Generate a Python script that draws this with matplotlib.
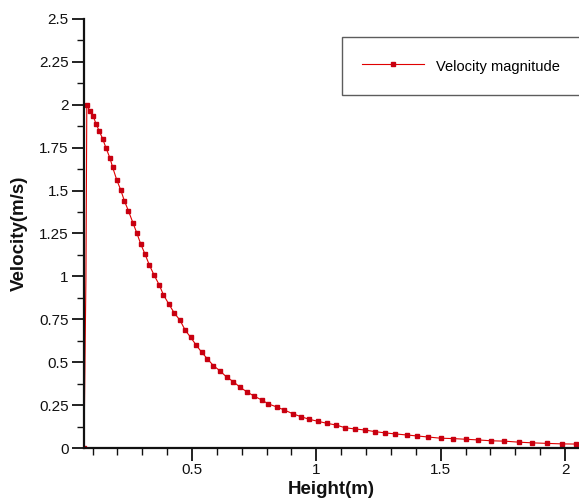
import numpy as np
import matplotlib
matplotlib.use('Agg')
import matplotlib.pyplot as plt
from matplotlib.ticker import MultipleLocator

plt.rcParams['font.family'] = ['Liberation Sans', 'DejaVu Sans']

# 读取的数据点 (高度, 速度)
height = [0.0657, 0.0735, 0.077, 0.090, 0.103, 0.114, 0.1265, 0.141, 0.154, 0.170,
          0.181, 0.197, 0.213, 0.228, 0.244, 0.262, 0.278, 0.294, 0.311, 0.328,
          0.347, 0.368, 0.385, 0.407, 0.429, 0.452, 0.472, 0.495, 0.516, 0.539,
          0.562, 0.586, 0.613, 0.640, 0.666, 0.693, 0.720, 0.749, 0.780, 0.807,
          0.841, 0.870, 0.905, 0.937, 0.972, 1.005, 1.042, 1.079, 1.116, 1.155,
          1.194, 1.237, 1.277, 1.317, 1.363, 1.406, 1.450, 1.500, 1.548, 1.600,
          1.651, 1.702, 1.756, 1.814, 1.868, 1.926, 1.986, 2.044]
velocity = [0.0, 1.0, 2.0, 1.962, 1.933, 1.889, 1.849, 1.801, 1.749, 1.690,
            1.635, 1.564, 1.505, 1.441, 1.383, 1.314, 1.253, 1.188, 1.130, 1.068,
            1.009, 0.951, 0.893, 0.838, 0.786, 0.744, 0.688, 0.644, 0.601, 0.558,
            0.519, 0.480, 0.449, 0.412, 0.387, 0.354, 0.328, 0.303, 0.280, 0.257,
            0.239, 0.222, 0.200, 0.183, 0.167, 0.156, 0.144, 0.134, 0.118, 0.111,
            0.105, 0.095, 0.088, 0.082, 0.076, 0.070, 0.064, 0.057, 0.055, 0.051,
            0.047, 0.042, 0.040, 0.034, 0.030, 0.027, 0.024, 0.023]
series_name = 'Velocity magnitude'

W, H = 579, 503
fig = plt.figure(figsize=(W / 100, H / 100), dpi=100)
ax = fig.add_axes([84 / W, 55 / H, (W - 84) / W, 429 / H])

marks = [i for i in range(len(height)) if i != 1]
ax.plot(height, velocity, color='#e00000', lw=0.8, marker='s', markersize=3.3,
        markerfacecolor='#c80010', markeredgecolor='#c80010', markevery=marks,
        label=series_name)

ax.set_xlim(0.0657, 2.056)
ax.set_ylim(0, 2.5)
ax.set_xticks([0.5, 1, 1.5, 2])
ax.set_xticklabels(['0.5', '1', '1.5', '2'])
ax.xaxis.set_minor_locator(MultipleLocator(0.1))
ax.set_yticks([0, 0.25, 0.5, 0.75, 1, 1.25, 1.5, 1.75, 2, 2.25, 2.5])
ax.set_yticklabels(['0', '0.25', '0.5', '0.75', '1', '1.25', '1.5', '1.75', '2', '2.25', '2.5'])
ax.yaxis.set_minor_locator(MultipleLocator(0.125))

for s in ['top', 'right']:
    ax.spines[s].set_visible(False)
for s in ['left', 'bottom']:
    ax.spines[s].set_linewidth(1.6)
    ax.spines[s].set_color('#111111')

ax.tick_params(which='major', direction='out', length=9, width=1.3, labelsize=11,
               colors='#111111', pad=2)
ax.tick_params(which='minor', direction='out', length=5, width=1.0, colors='#111111')

ax.set_xlabel('Height(m)', fontsize=13.5, fontweight='bold', labelpad=3, color='#111111')
ax.set_ylabel('Velocity(m/s)', fontsize=13.5, fontweight='bold', color='#111111')
ax.yaxis.set_label_coords(-0.113, 0.5)

leg = ax.legend(loc='upper left', bbox_to_anchor=(342 / W, 1 - 37 / H),
                bbox_transform=fig.transFigure, fontsize=10.5, frameon=True,
                fancybox=False, handlelength=4.3, handleheight=1.6, handletextpad=0.8,
                borderpad=1.35, borderaxespad=0)
leg.get_frame().set_edgecolor('#333333')
leg.get_frame().set_linewidth(1.0)

fig.savefig('out.png', dpi=100)
